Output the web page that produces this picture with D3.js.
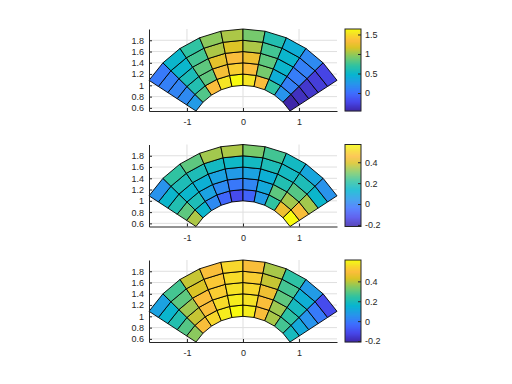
<!DOCTYPE html>
<html><head><meta charset="utf-8">
<script src="https://cdn.jsdelivr.net/npm/d3@7"></script>
<style>body{margin:0;background:#fff} svg{display:block} text{font-family:"Liberation Sans",Arial,Helvetica,sans-serif}</style>
</head><body><svg id="c" width="512" height="384"></svg>
<script>
// Grid edges (polar): angle in degrees (left to right), radius (inner to outer)
const angleEdgesDeg = [147, 135.6, 124.2, 112.8, 101.4, 90, 78.6, 67.2, 55.8, 44.4, 33];
const radiusEdges = [1, 1.2, 1.4, 1.6, 1.8, 2];
const xTicks = [-1, 0, 1];
const yTicks = [0.6, 0.8, 1, 1.2, 1.4, 1.6, 1.8];

// Cell values: rows = radius band (inner -> outer), cols = angle sector (left -> right)
const valuesTop = [
  [0.28, 0.80, 1.33, 1.54, 1.64, 1.54, 1.33, 0.70, 0.23, -0.46],
  [0.17, 0.63, 0.84, 1.30, 1.43, 1.35, 0.91, 0.42, 0.11, -0.38],
  [0.13, 0.59, 0.84, 1.22, 1.33, 1.26, 0.84, 0.49, 0.09, -0.33],
  [0.11, 0.49, 0.76, 1.05, 1.18, 1.05, 0.76, 0.49, 0.11, -0.29],
  [0.07, 0.49, 0.70, 0.97, 1.05, 0.91, 0.63, 0.42, 0.17, -0.25]
];
const valuesMid = [
  [0.35, 0.14, 0.02, -0.06, -0.12, -0.07, 0.06, 0.22, 0.43, 0.57],
  [0.27, 0.18, 0.08, 0.02, -0.02, 0.01, 0.10, 0.27, 0.34, 0.45],
  [0.19, 0.14, 0.12, 0.08, 0.06, 0.08, 0.12, 0.19, 0.26, 0.34],
  [0.14, 0.18, 0.18, 0.16, 0.15, 0.16, 0.18, 0.16, 0.18, 0.14],
  [0.04, 0.22, 0.27, 0.34, 0.35, 0.30, 0.24, 0.16, 0.09, 0.04]
];
const valuesBot = [
  [0.35, 0.49, 0.55, 0.59, 0.615, 0.59, 0.49, 0.38, 0.27, 0.19],
  [0.29, 0.41, 0.49, 0.56, 0.59, 0.57, 0.49, 0.37, 0.24, 0.12],
  [0.22, 0.37, 0.49, 0.53, 0.57, 0.55, 0.47, 0.30, 0.19, 0.06],
  [0.16, 0.30, 0.43, 0.52, 0.56, 0.53, 0.41, 0.27, 0.14, 0.00],
  [0.10, 0.27, 0.41, 0.49, 0.55, 0.49, 0.38, 0.24, 0.08, -0.11]
];
const climTop = [-0.46, 1.64];
const climMid = [-0.215, 0.57];
const climBot = [-0.21, 0.615];
const cbTicksTop = [0, 0.5, 1, 1.5];
const cbTicksMid = [-0.2, 0, 0.2, 0.4];
const cbTicksBot = [-0.2, 0, 0.2, 0.4];

// Parula colormap anchors
const parulaStops = [0, 0.111, 0.222, 0.333, 0.444, 0.556, 0.667, 0.778, 0.857, 0.92, 0.96, 1];
const parulaColors = ["rgb(62,38,168)","rgb(71,71,235)","rgb(62,111,255)","rgb(39,150,235)","rgb(8,181,208)",
  "rgb(49,195,160)","rgb(129,202,101)","rgb(220,196,37)","rgb(252,189,61)","rgb(248,214,44)","rgb(245,233,34)","rgb(249,251,14)"];

const panels = [
  {values: valuesTop, clim: climTop, cbTicks: cbTicksTop, top: 29},
  {values: valuesMid, clim: climMid, cbTicks: cbTicksMid, top: 144.5},
  {values: valuesBot, clim: climBot, cbTicks: cbTicksBot, top: 260}
];

const svg = d3.select("#c");
const ink = "#262626";
const fmt = v => d3.format("~g")(v).replace("\u2212", "-");
const plotLeft = 149, plotRight = 337, plotH = 82;
const cbX = 345, cbW = 16;

const rad = d => d * Math.PI / 180;
const allX = [], allY = [];
angleEdgesDeg.forEach(a => radiusEdges.forEach(r => { allX.push(r * Math.cos(rad(a))); allY.push(r * Math.sin(rad(a))); }));
const xExt = d3.extent(allX), yExt = d3.extent(allY);
const x = d3.scaleLinear().domain(xExt).range([plotLeft, plotRight]);

panels.forEach(p => {
  const y = d3.scaleLinear().domain(yExt).range([p.top + plotH, p.top]);
  const color = d3.scaleLinear().domain(parulaStops.map(t => p.clim[0] + t * (p.clim[1] - p.clim[0])))
    .range(parulaColors).interpolate(d3.interpolateRgb).clamp(true);
  const g = svg.append("g");
  // grid
  g.selectAll(".gx").data(xTicks).enter().append("line")
    .attr("x1", d => x(d)).attr("x2", d => x(d)).attr("y1", p.top).attr("y2", p.top + plotH)
    .attr("stroke", "#dfdfdf").attr("stroke-width", 1);
  g.selectAll(".gy").data(yTicks).enter().append("line")
    .attr("y1", d => y(d)).attr("y2", d => y(d)).attr("x1", plotLeft).attr("x2", plotRight)
    .attr("stroke", "#dfdfdf").attr("stroke-width", 1);
  // cells
  const cells = [];
  p.values.forEach((row, k) => row.forEach((v, c) => cells.push({k, c, v})));
  const pt = (a, r) => [x(r * Math.cos(rad(a))), y(r * Math.sin(rad(a)))];
  g.selectAll(".cell").data(cells).enter().append("path")
    .attr("d", d => {
      const a0 = angleEdgesDeg[d.c], a1 = angleEdgesDeg[d.c + 1];
      const r0 = radiusEdges[d.k], r1 = radiusEdges[d.k + 1];
      return "M" + [pt(a0, r0), pt(a1, r0), pt(a1, r1), pt(a0, r1)].map(q => q.join(",")).join("L") + "Z";
    })
    .attr("fill", d => color(d.v)).attr("stroke", "#000").attr("stroke-width", 0.9).attr("stroke-linejoin", "round");
  // axes
  const ax = g.append("g").attr("transform", `translate(0,${p.top + plotH})`)
    .call(d3.axisBottom(x).tickValues(xTicks).tickFormat(fmt).tickSizeInner(-3).tickSizeOuter(0).tickPadding(8));
  const ay = g.append("g").attr("transform", `translate(${plotLeft},0)`)
    .call(d3.axisLeft(y).tickValues(yTicks).tickFormat(fmt).tickSizeInner(-3).tickSizeOuter(0).tickPadding(5));
  [ax, ay].forEach(a => {
    a.select(".domain").attr("stroke", ink).attr("stroke-width", 1);
    a.selectAll(".tick line").attr("stroke", ink);
    a.selectAll("text").attr("fill", ink).style("font-size", "9px").style("font-family", '"Liberation Sans",Arial,sans-serif');
  });
  // colorbar
  const cy = d3.scaleLinear().domain(p.clim).range([p.top + plotH, p.top]);
  const steps = d3.range(0, plotH);
  g.selectAll(".cbs").data(steps).enter().append("rect")
    .attr("x", cbX).attr("width", cbW).attr("y", s => p.top + plotH - s - 1).attr("height", 1.2)
    .attr("fill", s => color(cy.invert(p.top + plotH - s - 0.5)));
  g.append("rect").attr("x", cbX).attr("y", p.top).attr("width", cbW).attr("height", plotH)
    .attr("fill", "none").attr("stroke", ink).attr("stroke-width", 1);
  const cb = g.append("g").attr("transform", `translate(${cbX + cbW},0)`)
    .call(d3.axisRight(cy).tickValues(p.cbTicks).tickFormat(fmt).tickSizeInner(-3).tickSizeOuter(0).tickPadding(4));
  cb.select(".domain").remove();
  cb.selectAll(".tick line").attr("stroke", ink);
  cb.selectAll("text").attr("fill", ink).style("font-size", "9px").style("font-family", '"Liberation Sans",Arial,sans-serif');
});
</script></body></html>
